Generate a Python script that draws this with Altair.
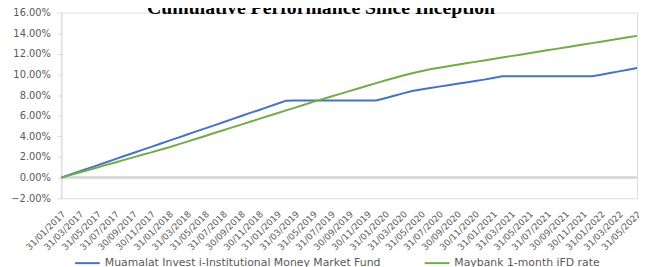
import altair as alt
import pandas as pd

# Month-end category labels (Jan 2017 .. May 2022)
dates = pd.date_range("2017-01-31", "2022-05-31", freq=pd.offsets.MonthEnd()).strftime("%d/%m/%Y").tolist()
tick_labels = dates[::2]

chart_title = "Cumulative Performance Since Inception"
fund_name = "Muamalat Invest i-Institutional Money Market Fund"
bench_name = "Maybank 1-month iFD rate"

# cumulative performance, percent
fund = [0.00, 0.30, 0.60, 0.90, 1.19, 1.49, 1.79, 2.09, 2.39, 2.69, 2.98, 3.28, 3.58,
        3.88, 4.18, 4.48, 4.77, 5.07, 5.37, 5.67, 5.97, 6.27, 6.56, 6.86, 7.16, 7.46,
        7.47, 7.47, 7.47, 7.47, 7.47, 7.47, 7.47, 7.47, 7.47, 7.47,
        7.70, 7.94, 8.17, 8.40, 8.54, 8.68, 8.82, 8.96, 9.10, 9.23, 9.37, 9.50, 9.66, 9.82,
        9.82, 9.82, 9.82, 9.82, 9.82, 9.82, 9.82, 9.82, 9.82, 9.82,
        9.98, 10.14, 10.30, 10.46, 10.62]
bench = [0.00, 0.25, 0.49, 0.74, 0.98, 1.23, 1.47, 1.72, 1.96, 2.21, 2.45, 2.70, 2.94,
         3.22, 3.49, 3.77, 4.04, 4.32, 4.59, 4.87, 5.14, 5.42, 5.69, 5.97, 6.24, 6.52, 6.79, 7.07, 7.34,
         7.60, 7.86, 8.12, 8.38, 8.64, 8.90, 9.16,
         9.41, 9.66, 9.90, 10.12, 10.32, 10.50, 10.66, 10.80,
         10.94, 11.08, 11.22, 11.36, 11.50, 11.64, 11.78, 11.92, 12.06, 12.20, 12.34,
         12.48, 12.62, 12.76, 12.90, 13.04, 13.18, 13.32, 13.46, 13.60, 13.74]

y_ticks = [-0.02, 0.0, 0.02, 0.04, 0.06, 0.08, 0.10, 0.12, 0.14, 0.16]

rows = []
for d, v in zip(dates, fund):
    rows.append({"date": d, "series": fund_name, "value": v / 100})
for d, v in zip(dates, bench):
    rows.append({"date": d, "series": bench_name, "value": v / 100})
df = pd.DataFrame(rows)

y_scale = alt.Scale(domain=[-0.02, 0.16], nice=False, zero=False)
y_axis = alt.Axis(values=y_ticks, format=".2%", title=None, grid=False,
                  domainColor="#d9d9d9", tickColor="#d9d9d9", tickSize=4,
                  labelOverlap=False,
                  labelPadding=7, labelFont="DejaVu Sans", labelFontSize=10,
                  labelColor="#595959")

zero = alt.Chart(df).mark_rule(color="#d9d9d9", strokeWidth=1.5).encode(
    y=alt.datum(0, scale=y_scale, axis=y_axis)
)

lines = alt.Chart(df).mark_line(strokeWidth=2).encode(
    x=alt.X("date:N", sort=dates, scale=alt.Scale(type="point", padding=0),
            axis=alt.Axis(values=tick_labels, labelAngle=-45, title=None, domain=False,
                          ticks=False, grid=False, labelPadding=14, labelOffset=2,
                          labelAlign="right", labelBaseline="middle", labelOverlap=False,
                          labelFont="DejaVu Sans", labelFontSize=9, labelColor="#595959")),
    y=alt.Y("value:Q", scale=y_scale, axis=y_axis),
    color=alt.Color("series:N", sort=[fund_name, bench_name],
                    scale=alt.Scale(domain=[fund_name, bench_name], range=["#4472C4", "#70AD47"]),
                    legend=alt.Legend(orient="none", legendX=13, legendY=240, direction="horizontal",
                                      title=None, symbolType="stroke", symbolSize=625,
                                      symbolStrokeWidth=2, labelFont="DejaVu Sans",
                                      labelFontSize=11, labelColor="#595959", labelLimit=500,
                                      columnPadding=40, labelOffset=4)),
)

title = alt.Chart(pd.DataFrame({"t": [chart_title]})).mark_text(
    font="Liberation Serif", fontSize=20, fontWeight="bold", color="black",
    align="center", baseline="alphabetic"
).encode(text="t:N", x=alt.value(263), y=alt.value(1))

chart = alt.layer(zero, lines, title).properties(
    width=583, height=188,
    autosize=alt.AutoSizeParams(type="none"),
    padding={"left": 54, "top": 3, "right": 2, "bottom": 68},
).configure_view(strokeOpacity=0).configure_axis(labelOverlap=False).configure(background="white")

chart.save("out.html", embed_options={"renderer": "svg", "actions": False})
